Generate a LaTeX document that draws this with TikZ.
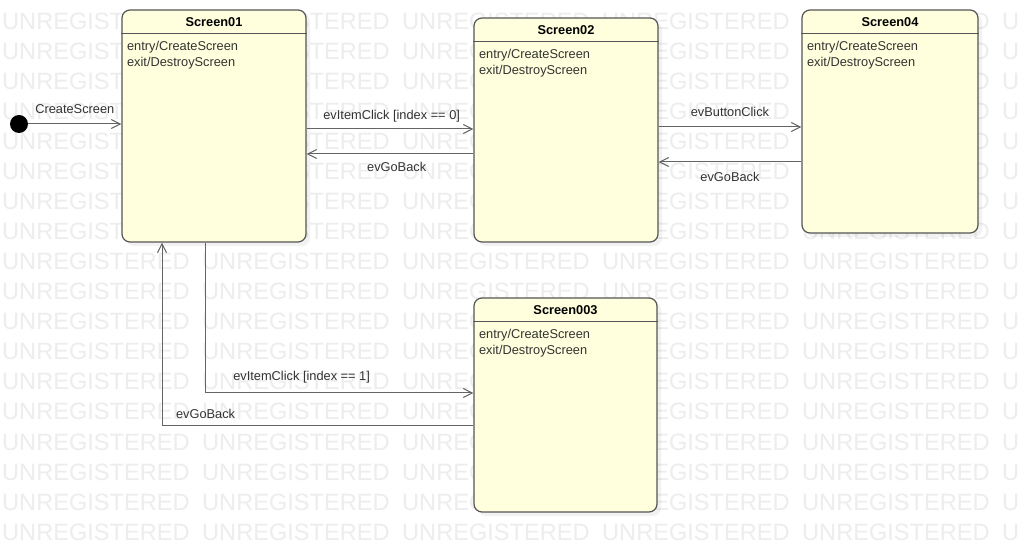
\documentclass[tikz,border=0pt]{standalone}
\usepackage{fontspec}
\setmainfont{Liberation Sans}
\usepackage{tikz}
\usetikzlibrary{arrows.meta}
\usetikzlibrary{positioning}
\usetikzlibrary{shadows}
\definecolor{mfill}{RGB}{255,255,221}
\definecolor{mline}{RGB}{85,85,85}
\definecolor{medge}{RGB}{100,100,100}
\definecolor{mtext}{RGB}{51,51,51}
\definecolor{mwater}{RGB}{237,237,237}
\tikzset{state/.style = {draw=mline, line width=1.2pt, fill=mfill, rounded corners=8pt,
                         inner sep=0, drop shadow={shadow xshift=4pt, shadow yshift=-4pt,
                                                   opacity=0.1}}}
\tikzset{stitle/.style = {font=\fontsize{12.8}{15}\selectfont\bfseries, text=black, inner sep=0}}
\tikzset{act/.style = {font=\fontsize{12.8}{15}\selectfont, text=mtext, inner sep=0, anchor=base west}}
\tikzset{sepline/.style = {draw=mline, line width=1.2pt}}
\tikzset{trans/.style = {draw=medge, line width=1pt,
                         -{Straight Barb[length=9pt, width=9pt, line width=1pt]}}}
\tikzset{lbl/.style = {font=\fontsize{12.8}{15}\selectfont, text=mtext, inner sep=0,
                       text height=9.5pt, text depth=3pt}}
\tikzset{initial/.style = {fill=black, circle, inner sep=0, minimum size=18pt}}
\tikzset{wmark/.style = {font=\fontsize{23.6}{26}\selectfont, text=mwater, inner sep=0, anchor=base west}}

\begin{document}
\begin{tikzpicture}[x=1pt, y=-1pt]
  \useasboundingbox [fill=white] (0, 0) rectangle (1018, 553);

  % watermark
  \begin{scope}
    \clip (0, 0) rectangle (1018, 553);
    \foreach \r in {1,...,18}
      \foreach \c in {0,...,5}
        \node [wmark] (wm-\r-\c) at ({2 + 200*\c}, {30*\r}) {UNREGISTERED};
  \end{scope}

  % states
  \node [state, minimum width=184pt, minimum height=232pt] (s1) at (214, 126) {};
  \node [state, minimum width=184pt, minimum height=224pt] (s2) at (566, 130) {};
  \node [state, minimum width=176pt, minimum height=223pt] (s4) at (890, 121.5) {};
  \node [state, minimum width=183pt, minimum height=214pt] (s3) at (565.5, 405) {};

  \foreach \s/\t in {s1/Screen01, s2/Screen02, s4/Screen04, s3/Screen003} {
    \node [stitle] (\s-title) at ([yshift=-12.5pt]\s.north) {\t};
    \draw [sepline] ([yshift=-24.5pt]\s.north west) -- ([yshift=-24.5pt]\s.north east);
    \node [act] (\s-entry) at ([xshift=5.5pt, yshift=-41.5pt]\s.north west) {entry/CreateScreen};
    \node [act] (\s-exit) at ([xshift=5.5pt, yshift=-57pt]\s.north west) {exit/DestroyScreen};
  }

  % transitions
  \node [initial] (init) at (19, 124) {};
  \draw [trans] (init) -- (init -| s1.west)
        node [lbl, above=7pt, midway] {CreateScreen};

  \coordinate (row1) at (0, 129);
  \coordinate (row2) at (0, 154);
  \coordinate (row3) at (0, 127);
  \coordinate (row4) at (0, 162);
  \coordinate (row5) at (0, 393);
  \coordinate (row6) at (0, 425);
  \coordinate (col1) at (205, 0);
  \coordinate (col2) at (162, 0);

  \draw [trans] (s1.east |- row1) -- (s2.west |- row1)
        node [lbl, above=6pt, pos=0.51] {evItemClick [index == 0]};
  \draw [trans] (s2.west |- row2) -- (s1.east |- row2)
        node [lbl, below=7.5pt, pos=0.46] {evGoBack};
  \draw [trans] (s2.east |- row3) -- (s4.west |- row3)
        node [lbl, above=6.5pt, midway] {evButtonClick};
  \draw [trans] (s4.west |- row4) -- (s2.east |- row4)
        node [lbl, below=9.5pt, midway] {evGoBack};
  \draw [trans] (col1 |- s1.south) |- (s3.west |- row5)
        node [lbl, above=9pt, pos=0.68] {evItemClick [index == 1]};
  \draw [trans] (s3.west |- row6) -| (col2 |- s1.south)
        node [lbl, above=3.5pt, pos=0.43] {evGoBack};
\end{tikzpicture}
\end{document}
